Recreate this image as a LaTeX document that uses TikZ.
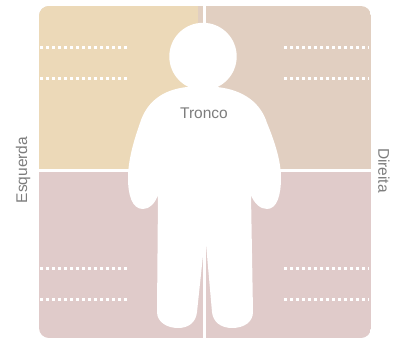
\documentclass[tikz,border=0pt]{standalone}
\usepackage{tikz}
\usepackage{fontspec}
\setmainfont{Liberation Sans}
\definecolor{quadtan}{RGB}{236,217,184}
\definecolor{quadbrown}{RGB}{225,207,193}
\definecolor{quadpink}{RGB}{224,203,202}
\definecolor{labelgray}{RGB}{125,125,125}

\begin{document}
\begin{tikzpicture}[
    x=1pt, y=-1pt,
    label/.style={text=labelgray, font=\fontsize{15.5}{15.5}\selectfont, inner sep=0pt},
    gap/.style={draw=white, line width=2.6pt},
    dots/.style={draw=white, line width=3pt, dash pattern=on 3pt off 3pt}
]
    \useasboundingbox (0,0) rectangle (402,338);

    % Quadrants
    \begin{scope}
        \clip[rounded corners=10pt] (39,6) rectangle (371,338);
        \fill[quadbrown] (39,6) rectangle (371,170);
        \fill[quadpink] (39,170) rectangle (371,338);
        \fill[quadtan] (39,6) rectangle (198,170);
    \end{scope}

    % White gaps
    \draw[gap] (204.5,6) -- (204.5,338);
    \draw[gap] (39,170.5) -- (371,170.5);

    % Dotted rows
    \foreach \rowy in {47.5,78.5,268.5,299.5} {
        \draw[dots] (40,\rowy) -- (128,\rowy);
        \draw[dots] (284,\rowy) -- (369,\rowy);
    }

    % Figure
    \fill[white] (203,56.5) circle (33.7);
    \fill[white] (187,87) .. controls (160,90) and (146,104) .. (140,123)
        .. controls (134,140) and (128,160) .. (128,178)
        .. controls (128,195) and (132,209) .. (143,209)
        .. controls (150,209) and (155,203) .. (158,195)
        -- (157,312) .. controls (157,322) and (167,328) .. (178,328)
        .. controls (189,328) and (196,322) .. (197,312)
        -- (204.5,241) -- (205.5,238)
        -- (212,312) .. controls (213,322) and (221,328) .. (232,328)
        .. controls (244,328) and (253,322) .. (253,312)
        -- (251,195) .. controls (254,203) and (260,209) .. (267,209)
        .. controls (277,209) and (281,195) .. (281,178)
        .. controls (281,160) and (274,140) .. (267,123)
        .. controls (261,104) and (245,90) .. (217,87) -- cycle;

    % Labels
    \node[label] (tronco) at (204,113) {Tronco};
    \node[label, rotate=90] (esquerda) at (23,170) {Esquerda};
    \node[label, rotate=-90] (direita) at (384,170.5) {Direita};
\end{tikzpicture}
\end{document}
